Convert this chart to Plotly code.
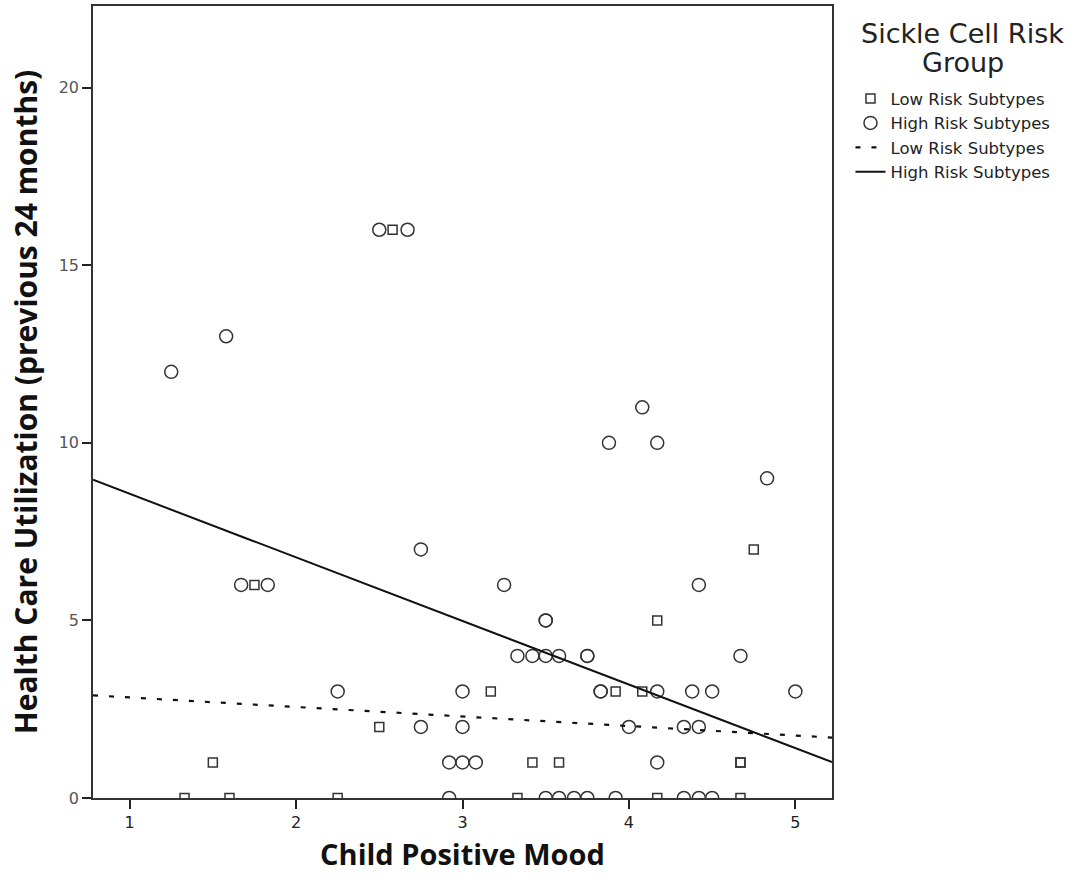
import plotly.graph_objects as go

# ---- data ----
high_x = [1.25, 1.58, 2.50, 2.67, 1.67, 1.83, 2.25, 2.75, 2.75, 2.92, 3.00, 3.08, 3.00, 3.00,
          2.92, 3.25, 3.33, 3.42, 3.50, 3.50, 3.50, 3.58, 3.75, 3.75, 3.83, 3.83, 3.88, 4.08,
          4.17, 4.00, 4.17, 4.17, 4.38, 4.33, 4.42, 4.42, 4.50, 4.67, 4.83, 5.00,
          3.50, 3.58, 3.67, 3.75, 3.92, 4.33, 4.42, 4.50]
high_y = [12, 13, 16, 16, 6, 6, 3, 7, 2, 1, 1, 1, 3, 2,
          0, 6, 4, 4, 5, 5, 4, 4, 4, 4, 3, 3, 10, 11,
          10, 2, 3, 1, 3, 2, 2, 6, 3, 4, 9, 3,
          0, 0, 0, 0, 0, 0, 0, 0]

low_x = [2.58, 1.50, 1.75, 2.50, 3.17, 3.42, 3.58, 3.92, 4.08, 4.17, 4.75, 4.67, 4.67,
         1.33, 1.60, 2.25, 3.33, 4.17, 4.67]
low_y = [16, 1, 6, 2, 3, 1, 1, 3, 3, 5, 7, 1, 1,
         0, 0, 0, 0, 0, 0]

# fit lines (values at the ends of the x range)
fit_x = [0.78, 5.22]
low_fit_y = [2.89, 1.70]
high_fit_y = [8.96, 1.01]

x_ticks = [1, 2, 3, 4, 5]
y_ticks = [0, 5, 10, 15, 20]

legend_title_lines = ["Sickle Cell Risk", "Group"]

FONT = "DejaVu Sans"
TITLE_FONT = "Open Sans"
INK = "#333333"

fig = go.Figure()
fig.add_trace(go.Scatter(
    x=low_x, y=low_y, mode="markers", name="Low Risk Subtypes",
    marker=dict(symbol="square-open", size=9, color=INK, line=dict(width=1.5, color=INK)),
))
fig.add_trace(go.Scatter(
    x=high_x, y=high_y, mode="markers", name="High Risk Subtypes",
    marker=dict(symbol="circle-open", size=13, color=INK, line=dict(width=1.5, color=INK)),
))
fig.add_trace(go.Scatter(
    x=fit_x, y=low_fit_y, mode="lines", name="Low Risk Subtypes",
    line=dict(color="#111111", width=2.2, dash="5px,11px"),
))
fig.add_trace(go.Scatter(
    x=fit_x, y=high_fit_y, mode="lines", name="High Risk Subtypes",
    line=dict(color="#111111", width=2),
))

# legend title as centered text lines
for i, line in enumerate(legend_title_lines):
    fig.add_annotation(
        text=line, xref="paper", yref="paper",
        x=1.177, y=0.965 - i * 0.0365, xanchor="center", yanchor="middle",
        showarrow=False, font=dict(size=27, family=FONT, color="#222222"),
    )

fig.update_layout(
    width=1081, height=882,
    margin=dict(l=93, r=249, t=4, b=84),
    paper_bgcolor="white", plot_bgcolor="white",
    font=dict(family=FONT, color="#111111"),
    showlegend=True,
    legend=dict(
        x=1.025, xanchor="left", y=0.905, yanchor="top",
        font=dict(size=16.5, family=FONT, color="#222222"),
        itemwidth=30, tracegroupgap=0,
        bgcolor="rgba(0,0,0,0)",
    ),
    xaxis=dict(
        range=[0.78, 5.22], tickvals=x_ticks, ticktext=[str(v) for v in x_ticks],
        ticks="outside", ticklen=9, tickwidth=1.5, tickcolor="#222222",
        showgrid=False, zeroline=False,
        showline=True, mirror=True, linecolor="#333333", linewidth=1.5,
        tickfont=dict(size=16, family=FONT, color="#222222"),
        title=dict(text="Child Positive Mood", standoff=14,
                   font=dict(size=29, family=TITLE_FONT, color="#111111", weight=700)),
    ),
    yaxis=dict(
        range=[0, 22.3], tickvals=y_ticks, ticktext=[str(v) for v in y_ticks],
        ticks="outside", ticklen=9, tickwidth=1.5, tickcolor="#222222",
        showgrid=False, zeroline=False,
        showline=True, mirror=True, linecolor="#333333", linewidth=1.5,
        tickfont=dict(size=16, family=FONT, color="#555555"),
        title=dict(text="Health Care Utilization (previous 24 months)", standoff=12,
                   font=dict(size=30, family=TITLE_FONT, color="#111111", weight=700)),
    ),
)

fig.write_html("out.html", config={"displayModeBar": False},
               post_script="document.body.style.margin='0';")
